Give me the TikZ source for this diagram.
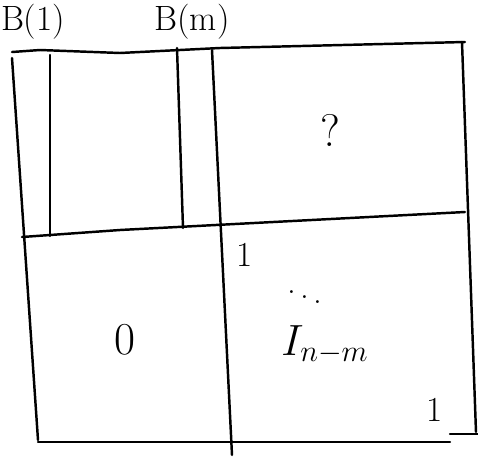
\documentclass[tikz,border=0pt]{standalone}
\begin{document}
\begin{tikzpicture}[x=0.02cm,y=-0.02cm,line width=1.4pt,line cap=round]
\useasboundingbox (0,0) rectangle (478,460);
\tikzset{lbl/.style={inner sep=0pt, font=\fontsize{20}{22}\selectfont},
  big/.style={inner sep=0pt, font=\fontsize{26}{28}\selectfont}}

% outer frame
\draw (12,52) -- (40,50) -- (120,53) -- (220,48) -- (465,42);
\draw (12,58) -- (38,440);
\draw (38,442) -- (450,442);
\draw (450,434) -- (478,434);
\draw (462,42) -- (476,432);

% block borders
\draw (50,55) -- (50,236);
\draw (177,48) -- (183,228);
\draw (212,50) -- (232,455);
\draw (22,237) -- (120,230) -- (465,212);

% labels
\node[lbl] (b1) at (33,22) {B(1)};
\node[lbl] (bm) at (192,22) {B(m)};
\node[big] (q) at (330,130) {?};
\node[big] (zero) at (125,340) {0};
\node[lbl] (one1) at (245,255) {1};
\node[lbl] (dots) at (305,292) {$\ddots$};
\node[big] (id) at (325,345) {$I_{n-m}$};
\node[lbl] (one2) at (435,410) {1};
\end{tikzpicture}
\end{document}
